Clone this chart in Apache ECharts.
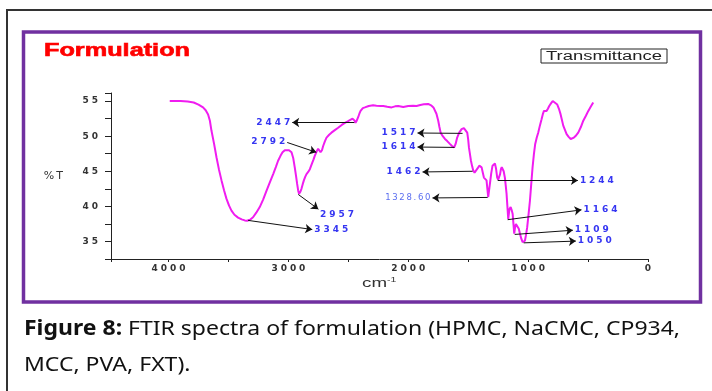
<!DOCTYPE html>
<html><head><meta charset="utf-8">
<script src="https://cdn.jsdelivr.net/npm/echarts@6/dist/echarts.min.js"></script>
<style>html,body{margin:0;padding:0;background:#fff}#c{width:712px;height:391px}</style>
</head><body><div id="c"></div>
<script>
// ---- data (wavenumber cm-1, %T) ----
const wavenumbers = [3990,3900,3840,3790,3750,3712,3690,3670,3655,3642,3620,3600,3580,3558,3537,3517,3495,3475,3450,3420,3390,3364,3345,3320,3295,3268,3239,3210,3183,3155,3127,3105,3086,3066,3049,3030,3016,2995,2974,2960,2947,2937,2927,2918,2911,2900,2891,2880,2871,2860,2849,2835,2821,2810,2799,2790,2780,2765,2752,2742,2732,2720,2710,2695,2682,2660,2641,2610,2585,2555,2529,2505,2487,2465,2454,2447,2440,2430,2418,2408,2398,2379,2362,2330,2293,2265,2230,2209,2175,2139,2110,2084,2042,2000,1960,1931,1900,1870,1834,1810,1790,1778,1765,1750,1740,1730,1712,1694,1675,1653,1635,1617,1605,1592,1575,1555,1536,1520,1508,1500,1494,1485,1477,1467,1458,1447,1436,1422,1408,1398,1388,1378,1369,1358,1347,1340,1333,1326,1319,1308,1297,1287,1277,1268,1258,1250,1241,1234,1227,1220,1213,1204,1194,1187,1180,1173,1166,1156,1146,1138,1129,1122,1116,1109,1102,1095,1088,1078,1068,1057,1046,1037,1027,1018,1008,997,985,974,963,952,941,928,916,902,888,878,868,856,846,835,824,808,795,780,757,743,729,718,707,693,679,662,645,630,618,600,582,560,540,518,498,478,457];
const transmittance = [55.0,55.0,54.95,54.8,54.5,54.1,53.7,53.1,52.2,50.8,48.9,47.0,45.3,43.7,42.3,41.1,40.1,39.4,38.8,38.4,38.15,38.0,37.95,38.1,38.45,39.1,39.9,41.0,42.2,43.4,44.6,45.6,46.5,47.2,47.7,48.0,48.07,48.0,47.7,46.9,45.55,44.4,43.2,42.2,41.8,42.1,42.5,43.2,43.7,44.2,44.6,44.9,45.3,45.8,46.3,46.7,47.2,47.8,48.2,48.3,47.7,48.0,48.6,49.3,49.8,50.2,50.5,50.9,51.2,51.6,51.9,52.1,52.3,52.5,52.6,52.2,51.9,52.2,52.7,53.2,53.6,54.0,54.1,54.3,54.4,54.35,54.3,54.3,54.2,54.1,54.25,54.3,54.15,54.3,54.35,54.3,54.45,54.55,54.6,54.4,54.1,53.85,53.2,52.2,51.3,50.5,50.0,49.6,49.3,48.9,48.6,48.4,48.9,49.8,50.5,51.0,51.15,50.9,50.5,49.5,48.4,47.4,46.5,45.7,45.1,44.8,44.8,45.4,45.8,45.7,45.55,44.8,44.1,43.9,43.7,42.5,41.3,41.5,43.2,44.7,45.8,46.05,46.1,45.4,44.1,43.8,43.7,44.6,45.3,45.6,45.55,45.0,44.1,43.0,41.8,40.0,38.2,39.6,39.9,39.5,38.9,37.4,36.1,37.0,37.5,37.5,37.3,36.8,36.1,35.4,34.9,34.95,35.1,35.9,37.0,38.8,40.8,43.2,45.55,47.4,48.9,49.8,50.5,51.5,52.4,53.1,53.6,53.7,53.6,53.9,54.3,54.7,55.0,54.9,54.5,53.9,53.1,52.3,51.5,50.9,50.3,49.9,49.6,49.7,49.8,50.1,50.5,51.3,52.2,52.9,53.6,54.2,54.8];
const xTickLabels = [0,1000,2000,3000,4000];
const yTickLabels = [35,40,45,50,55];
// peak annotations: label, point on curve, arrow end near the label (data units)
const peakNames = ['2447','2792','2957','3345','1517','1614','1462','1328.60','1244','1164','1109','1050'];
const peakOnCurve = [[2450,51.95],[2767,47.7],[2918,41.7],[3336,38.0],[1547,50.4],[1614,48.4],[1463,45.0],[1338,41.27],[1254,43.65],[1171,38.1],[1112,36.0],[1037,34.8]];
const peakLabelEnd = [[2968,51.95],[3010,49.1],[2750,39.6],[2801,36.7],[1923,50.45],[1923,48.45],[1881,44.9],[1798,41.2],[585,43.7],[555,39.5],[627,36.6],[602,35.05]];
const arrowAtCurve = [false,true,false,false,false,false,false,false,false,false,false,false];

const mctx = document.createElement('canvas').getContext('2d');
function tw(text, font){ mctx.font = font; return mctx.measureText(text).width; }
const sp = (s, g) => String(s).split('').join(g);
const GAP = '\u2004', THIN = '\u2009';

const chart = echarts.init(document.getElementById('c'), null, {renderer:'canvas'});

const titleFont = 'bold 18px "Liberation Sans"';
const titleScale = 146 / tw('Formulation', titleFont);
const boxFont = '12px "Liberation Sans"';
const boxScale = 116 / tw('Transmittance', boxFont);
const capSize = 20.5;
const capBold = 'bold ' + capSize + 'px "Noto Sans"', capReg = capSize + 'px "Noto Sans"';
const cap1b = 'Figure 8:', cap1r = ' FTIR spectra of formulation (HPMC, NaCMC, CP934,', cap2 = 'MCC, PVA, FXT).';
const capW = tw(cap1b, capBold) + tw(cap1r, capReg);
const capScale = 656 / capW;
const cmFont = '12px "Liberation Sans"';
const cmScale = 25 / tw('cm', cmFont);

const markData = peakNames.map((n, i) => {
  const lbl = {};
  if (n === '2957') { lbl.align = 'left'; lbl.verticalAlign = 'top'; }
  if (n === '1328.60') { lbl.color = '#5a6ef0'; lbl.fontWeight = 'normal'; lbl.fontSize = 8.5; }
  return [
    {name: n, coord: peakOnCurve[i], symbol: arrowAtCurve[i] ? 'arrow' : 'none', label: lbl},
    {coord: peakLabelEnd[i], symbol: arrowAtCurve[i] ? 'none' : 'arrow'}
  ];
});

chart.setOption({
  animation: false,
  backgroundColor: '#fff',
  grid: {left: 111, right: 64, top: 93, bottom: 132, containLabel: false},
  xAxis: {
    type: 'value', min: 0, max: 4480, interval: 500, inverse: true,
    axisLine: {onZero: false, lineStyle: {color: '#222', width: 1}},
    axisTick: {show: true, length: 3, lineStyle: {color: '#222'}},
    splitLine: {show: false},
    axisLabel: {
      margin: 5, color: '#333', fontSize: 9, fontWeight: 'bold', fontFamily: 'DejaVu Sans',
      showMinLabel: true, showMaxLabel: true,
      formatter: v => xTickLabels.includes(v) ? sp(v, GAP) : ''
    }
  },
  yAxis: {
    type: 'value', min: 32.5, max: 56.15, interval: 2.5,
    name: '%' + THIN + 'T', nameLocation: 'middle', nameRotate: 0, nameGap: 48,
    nameTextStyle: {color: '#333', fontSize: 11, fontFamily: 'DejaVu Sans', align: 'right'},
    axisLine: {onZero: false, lineStyle: {color: '#222', width: 1}},
    axisTick: {show: true, length: 6, lineStyle: {color: '#222'}},
    splitLine: {show: false},
    axisLabel: {
      margin: 13, color: '#333', fontSize: 9, fontWeight: 'bold', fontFamily: 'DejaVu Sans',
      formatter: v => yTickLabels.includes(v) ? sp(v, GAP) : ''
    }
  },
  series: [{
    type: 'line', name: 'Transmittance',
    data: wavenumbers.map((w, i) => [w, transmittance[i]]),
    showSymbol: false, symbol: 'none', smooth: false,
    lineStyle: {color: '#f01cf0', width: 2},
    silent: true,
    markLine: {
      silent: true, animation: false,
      symbol: ['none', 'arrow'], symbolSize: 7,
      emphasis: {disabled: true},
      lineStyle: {color: '#111', width: 1, type: 'solid'},
      label: {
        show: true, position: 'end', distance: 2,
        color: '#3636f2', fontSize: 9, fontWeight: 'bold', fontFamily: 'DejaVu Sans',
        formatter: p => p.name === '1328.60' ? sp(p.name, THIN) : sp(p.name, GAP)
      },
      data: markData
    }
  }],
  graphic: [
    {type: 'rect', silent: true, z: -10, shape: {x: 7, y: 10, width: 730, height: 420},
     style: {fill: 'none', stroke: '#333', lineWidth: 2}},
    {type: 'rect', silent: true, z: -10, shape: {x: 23.5, y: 32, width: 677, height: 270},
     style: {fill: 'none', stroke: '#7030a0', lineWidth: 3.5}},
    {type: 'text', silent: true, x: 44, y: 51.5, scaleX: titleScale,
     style: {x: 0, y: 0, text: 'Formulation', font: titleFont, fill: '#ff0000', stroke: '#ff0000', lineWidth: 0.6,
             align: 'left', verticalAlign: 'middle', textAlign: 'left', textVerticalAlign: 'middle'}},
    {type: 'rect', silent: true, shape: {x: 541, y: 49, width: 126, height: 14},
     style: {fill: '#fff', stroke: '#222', lineWidth: 1}},
    {type: 'text', silent: true, x: 604, y: 56.5, scaleX: boxScale,
     style: {x: 0, y: 0, text: 'Transmittance', font: boxFont, fill: '#222',
             align: 'center', verticalAlign: 'middle', textAlign: 'center', textVerticalAlign: 'middle'}},
    {type: 'text', silent: true, x: 362, y: 284, scaleX: cmScale,
     style: {x: 0, y: 0, text: 'cm', font: cmFont, fill: '#333',
             align: 'left', verticalAlign: 'middle', textAlign: 'left', textVerticalAlign: 'middle'}},
    {type: 'text', silent: true, x: 387, y: 280, scaleX: 1.5,
     style: {x: 0, y: 0, text: '-1', font: '7px "Liberation Sans"', fill: '#333',
             align: 'left', verticalAlign: 'middle', textAlign: 'left', textVerticalAlign: 'middle'}},
    {type: 'text', silent: true, x: 24, y: 329, scaleX: capScale,
     style: {x: 0, y: 0, text: cap1b, font: capBold, fill: '#111',
             align: 'left', verticalAlign: 'middle', textAlign: 'left', textVerticalAlign: 'middle'}},
    {type: 'text', silent: true, x: 24 + tw(cap1b, capBold) * capScale, y: 329, scaleX: capScale,
     style: {x: 0, y: 0, text: cap1r, font: capReg, fill: '#111',
             align: 'left', verticalAlign: 'middle', textAlign: 'left', textVerticalAlign: 'middle'}},
    {type: 'text', silent: true, x: 24, y: 365, scaleX: capScale,
     style: {x: 0, y: 0, text: cap2, font: capReg, fill: '#111',
             align: 'left', verticalAlign: 'middle', textAlign: 'left', textVerticalAlign: 'middle'}}
  ]
});
</script>
</body></html>
